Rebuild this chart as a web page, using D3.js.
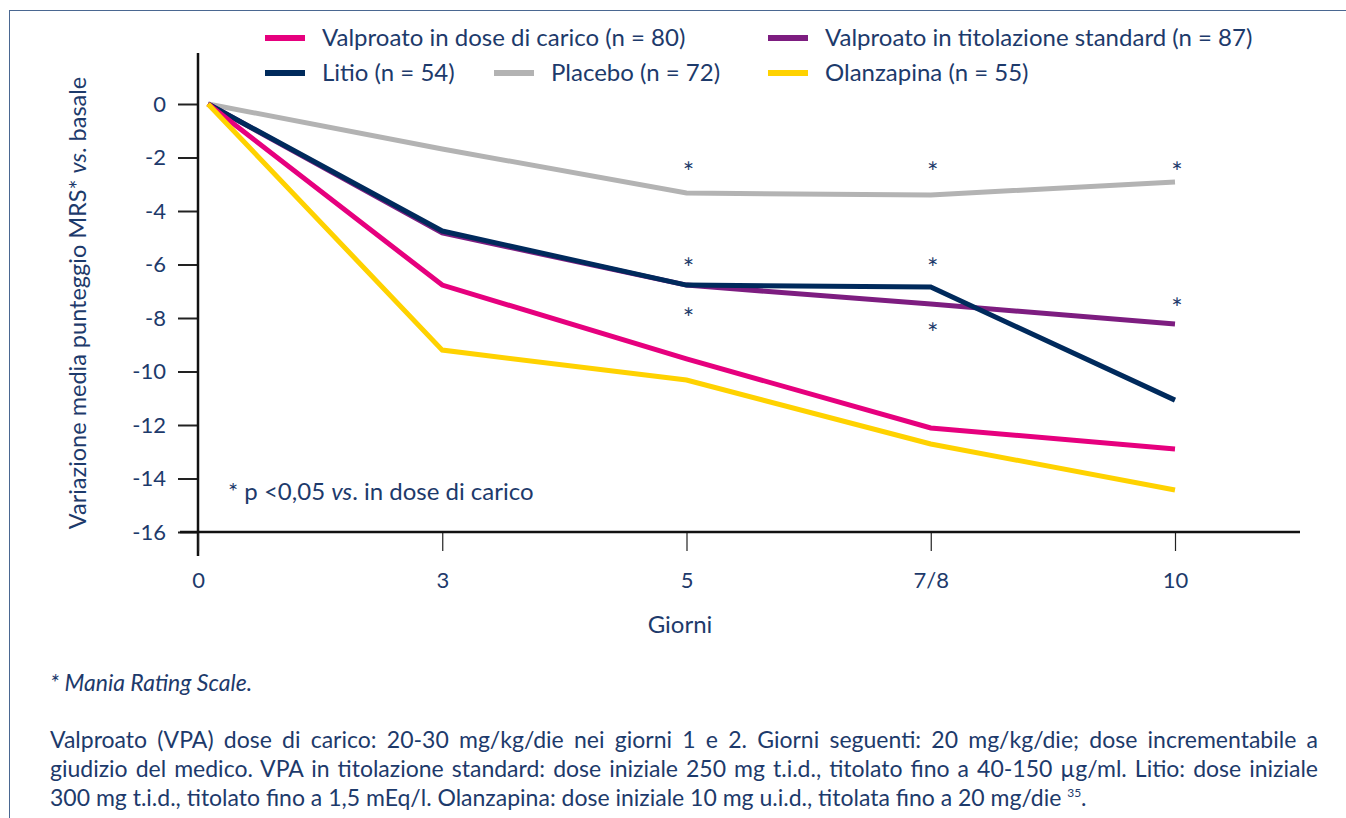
<!DOCTYPE html>
<html>
<head>
<meta charset="utf-8">
<script src="https://cdn.jsdelivr.net/npm/d3@7"></script>
<style>
  body { margin: 0; background: #fff; font-family: Lato, "Open Sans", sans-serif; color: #1d3a6b; }
  #frame { position: absolute; left: 9px; top: 10px; width: 1400px; height: 900px; border-left: 1.5px solid #4a6791; border-top: 1.5px solid #4a6791; }
  #notes { position: absolute; left: 50px; top: 668px; width: 1268px; font-size: 23px; line-height: 29px; }
  #notes .star { font-style: italic; font-size: 23px; margin-bottom: 28px; }
  #notes .ln, #notes .last { white-space: nowrap; }
  #notes .ln span, #notes .last span { display: inline-block; }
  #notes sup { font-size: 12px; line-height: 0; }
</style>
</head>
<body>
<div id="frame"></div>
<svg id="chart" width="1346" height="660" style="position:absolute;left:0;top:0"></svg>
<div id="notes">
  <div class="star">* Mania Rating Scale.</div>
  <div class="ln"><span>Valproato (VPA) dose di carico: 20-30 mg/kg/die nei giorni 1 e 2. Giorni seguenti: 20 mg/kg/die; dose incrementabile a</span></div>
  <div class="ln"><span>giudizio del medico. VPA in titolazione standard: dose iniziale 250 mg t.i.d., titolato fino a 40-150 µg/ml. Litio: dose iniziale</span></div>
  <div class="last"><span>300 mg t.i.d., titolato fino a 1,5 mEq/l. Olanzapina: dose iniziale 10 mg u.i.d., titolata fino a 20 mg/die&nbsp;<sup>35</sup>.</span></div>
</div>
<script>
// Days on the x axis (evenly spaced categories)
var days = ['0', '3', '5', '7/8', '10'];
var yTicks = [0, -2, -4, -6, -8, -10, -12, -14, -16];

// Mean change of MRS score vs. baseline, per group
var seriesNames = ['Valproato in dose di carico (n = 80)', 'Valproato in titolazione standard (n = 87)',
                   'Litio (n = 54)', 'Placebo (n = 72)', 'Olanzapina (n = 55)'];
var valproatoCarico = [0, -6.77, -9.53, -12.11, -12.9];
var valproatoStandard = [0, -4.82, -6.77, -7.48, -8.22];
var litio = [0, -4.75, -6.77, -6.84, -11.07];
var placebo = [0, -1.68, -3.33, -3.4, -2.92];
var olanzapina = [0, -9.2, -10.32, -12.71, -14.43];
var seriesColors = ['#e6007e', '#7d1d80', '#002a5c', '#b3b3b3', '#ffd200'];

// Significance markers: [day index, value]
var starMarks = [[2, -2.36], [2, -5.94], [2, -7.81], [3, -2.36], [3, -5.94], [3, -8.37], [4, -2.36], [4, -7.44]];

var svg = d3.select('#chart');
var textColor = '#1d3a6b';

var x = d3.scalePoint().domain(days).range([198, 1175]);
var y = d3.scaleLinear().domain([-16, 0]).range([532, 104]);

// y axis (plain hyphen for negatives, as in the original)
var yAxis = svg.append('g').attr('transform', 'translate(198,0)')
  .call(d3.axisLeft(y).tickValues(yTicks).tickSize(20).tickPadding(12)
    .tickFormat(function(d) { return d < 0 ? '-' + Math.abs(d) : '' + d; }));
yAxis.select('.domain').remove();
yAxis.selectAll('line').attr('stroke', '#222').attr('stroke-width', 2);
yAxis.selectAll('text').attr('fill', textColor).style('font-size', '22px').style('font-family', 'Lato');
svg.append('line').attr('x1', 198).attr('x2', 198).attr('y1', 53).attr('y2', 556)
  .attr('stroke', '#111').attr('stroke-width', 2.5);

// x axis
var xAxis = svg.append('g').attr('transform', 'translate(0,532)')
  .call(d3.axisBottom(x).tickSize(19).tickPadding(21));
xAxis.select('.domain').remove();
xAxis.selectAll('line').attr('stroke', '#222').attr('stroke-width', 1.2);
xAxis.selectAll('text').attr('fill', textColor).style('font-size', '22px').style('font-family', 'Lato');
svg.append('line').attr('x1', 180).attr('x2', 1300).attr('y1', 532).attr('y2', 532)
  .attr('stroke', '#111').attr('stroke-width', 2.5);

svg.append('text').attr('x', 680).attr('y', 633).attr('text-anchor', 'middle')
  .attr('fill', textColor).style('font-size', '24px').text('Giorni');

var yl = svg.append('text').attr('transform', 'translate(86,303) rotate(-90)').attr('text-anchor', 'middle')
  .attr('fill', textColor).style('font-size', '23.5px');
yl.append('tspan').text('Variazione media punteggio MRS* ');
yl.append('tspan').style('font-style', 'italic').text('vs');
yl.append('tspan').text('. basale');

// lines, first point drawn just right of the y axis
var allSeries = [placebo, valproatoStandard, litio, valproatoCarico, olanzapina];
var allColors = [seriesColors[3], seriesColors[1], seriesColors[2], seriesColors[0], seriesColors[4]];
var line = d3.line()
  .x(function(d, i) { return x(days[i]) + (i === 0 ? 10 : 0); })
  .y(function(d) { return y(d); });
svg.append('g').selectAll('path').data(allSeries).enter().append('path')
  .attr('d', line).attr('fill', 'none')
  .attr('stroke', function(d, i) { return allColors[i]; })
  .attr('stroke-width', 5).attr('stroke-linejoin', 'miter');

// asterisks
svg.append('g').selectAll('text').data(starMarks).enter().append('text')
  .attr('x', function(d) { return x(days[d[0]]) + 2; })
  .attr('y', function(d) { return y(d[1]) + 15; })
  .attr('text-anchor', 'middle').attr('fill', textColor).style('font-size', '27px').text('*');

var note = svg.append('text').attr('x', 228).attr('y', 500).attr('fill', textColor).style('font-size', '24px');
note.append('tspan').text('* p <0,05 ');
note.append('tspan').style('font-style', 'italic').text('vs');
note.append('tspan').text('. in dose di carico');

// legend
var legendPos = [[265, 38], [768, 38], [265, 73], [494, 73], [768, 73]];
var legend = svg.append('g').selectAll('g').data(seriesNames).enter().append('g')
  .attr('transform', function(d, i) { return 'translate(' + legendPos[i][0] + ',' + legendPos[i][1] + ')'; });
legend.append('line').attr('x1', 0).attr('x2', 40)
  .attr('stroke', function(d, i) { return seriesColors[i]; }).attr('stroke-width', 6);
legend.append('text').attr('x', 57).attr('y', 8).attr('fill', textColor).style('font-size', '24px')
  .text(function(d) { return d; });

// Justify the footnote lines to the full width (spacing may shrink or grow)
d3.selectAll('#notes .ln span').each(function() {
  var natural = this.getBoundingClientRect().width;
  var spaces = this.textContent.split(' ').length - 1;
  d3.select(this).style('word-spacing', ((1268 - natural) / spaces) + 'px');
});
</script>
</body>
</html>
